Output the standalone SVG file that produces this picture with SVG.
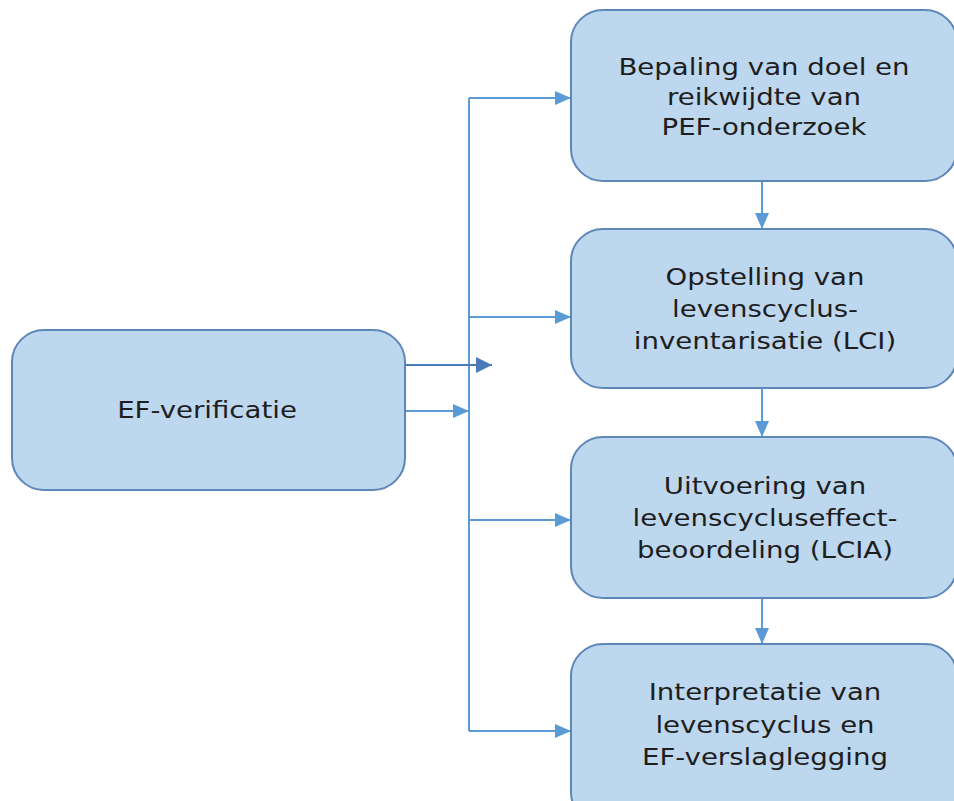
<svg xmlns="http://www.w3.org/2000/svg" width="954" height="801" viewBox="0 0 954 801">
<style>
.box{fill:#bdd7ee;stroke:#5b87b9;stroke-width:2}
.lbl{font-family:"DejaVu Sans",Verdana,sans-serif;font-size:23px;fill:#1e1e1e;text-anchor:middle}
.con{fill:none;stroke:#5b9bd5;stroke-width:2}
.dark{fill:none;stroke:#4a7ab8;stroke-width:2}
</style>
<defs>
<marker id="ah" markerUnits="userSpaceOnUse" markerWidth="16" markerHeight="14" refX="16" refY="7" orient="auto"><path d="M0,0 L16,7 L0,14 Z" fill="#5b9bd5"/></marker>
<marker id="ahd" markerUnits="userSpaceOnUse" markerWidth="16" markerHeight="16" refX="16" refY="8" orient="auto"><path d="M0,0 L16,8 L0,16 Z" fill="#4a7ab8"/></marker>
</defs>
<g id="connectors">
<path class="con" d="M469,98 V731"/>
<path class="con" d="M469,98 H571" marker-end="url(#ah)"/>
<path class="con" d="M469,317 H571" marker-end="url(#ah)"/>
<path class="con" d="M469,520 H571" marker-end="url(#ah)"/>
<path class="con" d="M469,731 H571" marker-end="url(#ah)"/>
<path class="con" d="M404,411 H469" marker-end="url(#ah)"/>
<path class="dark" d="M404,365 H492" marker-end="url(#ahd)"/>
<path class="con" d="M762,181 V229" marker-end="url(#ah)"/>
<path class="con" d="M762,388 V437" marker-end="url(#ah)"/>
<path class="con" d="M762,598 V644" marker-end="url(#ah)"/>
</g>
<g id="ef-verificatie">
<rect class="box" x="12" y="330" width="393" height="160" rx="32"/>
<text class="lbl" transform="translate(207,418) scale(1.2,1)">EF-verificatie</text>
</g>
<g id="bepaling">
<rect class="box" x="571" y="10" width="386" height="171" rx="32"/>
<text class="lbl" transform="translate(764,75) scale(1.2,1)">Bepaling van doel en</text>
<text class="lbl" transform="translate(764,105) scale(1.2,1)">reikwijdte van</text>
<text class="lbl" transform="translate(764,135) scale(1.2,1)">PEF-onderzoek</text>
</g>
<g id="opstelling">
<rect class="box" x="571" y="229" width="386" height="159" rx="32"/>
<text class="lbl" transform="translate(765,285) scale(1.2,1)">Opstelling van</text>
<text class="lbl" transform="translate(765,317) scale(1.2,1)">levenscyclus-</text>
<text class="lbl" transform="translate(765,349) scale(1.2,1)">inventarisatie (LCI)</text>
</g>
<g id="uitvoering">
<rect class="box" x="571" y="437" width="386" height="161" rx="32"/>
<text class="lbl" transform="translate(765,494) scale(1.2,1)">Uitvoering van</text>
<text class="lbl" transform="translate(765,526) scale(1.2,1)">levenscycluseffect-</text>
<text class="lbl" transform="translate(765,558) scale(1.2,1)">beoordeling (LCIA)</text>
</g>
<g id="interpretatie">
<rect class="box" x="571" y="644" width="386" height="180" rx="32"/>
<text class="lbl" transform="translate(765,700) scale(1.2,1)">Interpretatie van</text>
<text class="lbl" transform="translate(765,733) scale(1.2,1)">levenscyclus en</text>
<text class="lbl" transform="translate(765,765) scale(1.2,1)">EF-verslaglegging</text>
</g>
</svg>
